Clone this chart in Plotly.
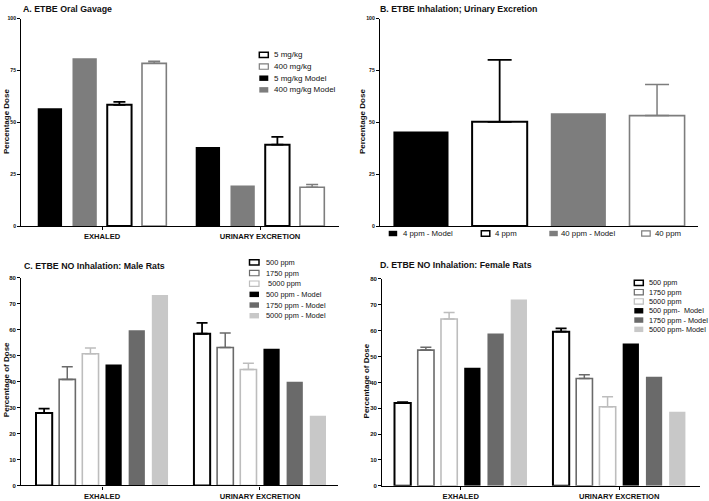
import plotly.graph_objects as go

W, H = 709, 501
FONT = "Liberation Sans, Arial, Helvetica, sans-serif"

# ---------------- data ----------------
categories = ["EXHALED", "URINARY EXCRETION"]

# Panel A: ETBE oral gavage
a_series = ["5 mg/kg Model", "400 mg/kg Model", "5 mg/kg", "400 mg/kg"]
a_5_model = [56.7, 38.1]
a_400_model = [80.8, 19.5]
a_5 = [58.4, 39.2]
a_5_err = [1.4, 3.8]
a_400 = [78.4, 18.7]
a_400_err = [1.0, 1.3]
a_legend = ["5 mg/kg", "400 mg/kg", "5 mg/kg Model", "400 mg/kg Model"]
a_yticks = [0, 25, 50, 75, 100]

# Panel B: ETBE inhalation, urinary excretion
b_category = ["URINARY EXCRETION"]
b_series = ["4 ppm - Model", "4 ppm", "40 ppm - Model", "40 ppm"]
b_values = [45.5, 50.2, 54.3, 53.2]
b_err = [0.0, 29.9, 0.0, 15.0]
b_yticks = [0, 25, 50, 75, 100]

# Panel C: ETBE NO inhalation, male rats
c_series = ["500 ppm", "1750 ppm", "5000 ppm",
            "500 ppm - Model", "1750 ppm - Model", "5000 ppm - Model"]
c_500 = [27.9, 58.5]
c_500_err = [1.7, 4.2]
c_1750 = [40.9, 53.2]
c_1750_err = [4.9, 5.6]
c_5000 = [50.8, 44.7]
c_5000_err = [2.2, 2.4]
c_500_model = [46.6, 52.7]
c_1750_model = [59.8, 40.0]
c_5000_model = [73.4, 26.9]
c_legend = ["500 ppm", "1750 ppm", " 5000 ppm",
            "500 ppm - Model", "1750 ppm - Model", "5000 ppm - Model"]

# Panel D: ETBE NO inhalation, female rats
d_500 = [32.0, 59.6]
d_500_err = [0.4, 1.3]
d_1750 = [52.5, 41.5]
d_1750_err = [1.1, 1.5]
d_5000 = [64.5, 30.6]
d_5000_err = [2.5, 3.9]
d_500_model = [45.7, 55.0]
d_1750_model = [58.9, 42.2]
d_5000_model = [72.1, 28.7]
d_legend = ["500 ppm", "1750 ppm", "5000 ppm",
            "500 ppm-  Model", "1750 ppm - Model", "5000 ppm- Model"]
cd_yticks = [0, 10, 20, 30, 40, 50, 60, 70, 80]

# ---------------- styles ----------------
BLACK = "#000000"
GRAY = "#7d7d7d"
DGRAY = "#6a6a6a"
LGRAY = "#c8c8c8"
LBORDER = "#bdbdbd"
WHITE = "#ffffff"
TEXT = "#111111"

# style: (fill, border colour, border width)
STY = {
    "black_fill": (BLACK, BLACK, 0),
    "gray_fill": (GRAY, GRAY, 0),
    "dgray_fill": (DGRAY, DGRAY, 0),
    "lgray_fill": (LGRAY, LGRAY, 0),
    "white_black": (WHITE, BLACK, 2),
    "white_gray": (WHITE, GRAY, 1.6),
    "white_dgray": (WHITE, DGRAY, 1.6),
    "white_lgray": (WHITE, LBORDER, 1.6),
}


def px(x):
    return x / W


def py(y):
    return 1 - y / H


fig = go.Figure()


def add_bar(name, xs, ys, style, axis, err=None, cap=6):
    fill, border, lw = STY[style]
    eb = dict(visible=False)
    if err is not None:
        eb = dict(type="data", array=err, arrayminus=[0] * len(err), symmetric=False,
                  color=border, thickness=1.8 if lw >= 2 else 1.5, width=cap, visible=True)
    fig.add_trace(go.Bar(
        name=name, x=xs, y=ys, xaxis="x" + axis, yaxis="y" + axis,
        marker=dict(color=fill, line=dict(color=border, width=lw)),
        error_y=eb, showlegend=False, hoverinfo="name+y",
    ))


# Panel A
add_bar(a_series[0], categories, a_5_model, "black_fill", "")
add_bar(a_series[1], categories, a_400_model, "gray_fill", "")
add_bar(a_series[2], categories, a_5, "white_black", "", a_5_err, 6)
add_bar(a_series[3], categories, a_400, "white_gray", "", a_400_err, 6)

# Panel B (one category, four bars)
b_styles = ["black_fill", "white_black", "gray_fill", "white_gray"]
for name, v, e, s in zip(b_series, b_values, b_err, b_styles):
    add_bar(name, b_category, [v], s, "2", None if e == 0 else [e], 12)

# Panel C
cd_styles = ["white_black", "white_dgray", "white_lgray", "black_fill", "dgray_fill", "lgray_fill"]
c_vals = [c_500, c_1750, c_5000, c_500_model, c_1750_model, c_5000_model]
c_errs = [c_500_err, c_1750_err, c_5000_err, None, None, None]
for name, v, e, s in zip(c_series, c_vals, c_errs, cd_styles):
    add_bar(name, categories, v, s, "3", e, 5.5)

# Panel D
d_vals = [d_500, d_1750, d_5000, d_500_model, d_1750_model, d_5000_model]
d_errs = [d_500_err, d_1750_err, d_5000_err, None, None, None]
for name, v, e, s in zip(c_series, d_vals, d_errs, cd_styles):
    add_bar(name, categories, v, s, "4", e, 5.5)


# ---------------- axes ----------------
def xax(dom, rng, show_labels=True):
    return dict(
        domain=[px(dom[0]), px(dom[1])], range=rng, type="category",
        showline=True, linecolor="black", linewidth=1.3,
        ticks="outside" if show_labels else "", ticklen=3, tickwidth=1, tickcolor="black",
        showticklabels=show_labels,
        tickfont=dict(family=FONT, size=7.6, color=TEXT, weight="bold"),
        showgrid=False, zeroline=False, fixedrange=True,
    )


def yax(dom, rng, ticks, fsize):
    return dict(
        domain=[py(dom[0]), py(dom[1])], range=rng, tickvals=ticks,
        showline=True, linecolor="black", linewidth=1.3,
        ticks="outside", ticklen=3, tickwidth=1, tickcolor="black",
        tickfont=dict(family=FONT, size=fsize, color=TEXT, weight="bold"),
        showgrid=False, zeroline=False, fixedrange=True,
    )


layout_axes = dict(
    xaxis=xax((21.3, 339), [-0.511, 1.5]) | dict(anchor="y"),
    yaxis=yax((225.7, 15.7), [0, 100], a_yticks, 5.2) | dict(anchor="x"),
    xaxis2=xax((380, 698), [-0.4445, 0.4445], False) | dict(anchor="y2"),
    yaxis2=yax((225.7, 15.7), [0, 100], b_yticks, 5.2) | dict(anchor="x2"),
    xaxis3=xax((21.3, 338), [-0.511, 1.494]) | dict(anchor="y3"),
    yaxis3=yax((488.3, 278.3), [0, 80], cd_yticks, 6) | dict(anchor="x3"),
    xaxis4=xax((382.3, 700), [-0.495, 1.51]) | dict(anchor="y4"),
    yaxis4=yax((488.7, 279.3), [0, 80], cd_yticks, 6) | dict(anchor="x4"),
)

annotations = []
shapes = []


def text(x, y, s, size, bold=False, xanchor="left", angle=0):
    annotations.append(dict(
        x=px(x), y=py(y), xref="paper", yref="paper", text=s, showarrow=False,
        xanchor=xanchor, yanchor="middle", textangle=angle,
        font=dict(family=FONT, size=size, color=TEXT, weight="bold" if bold else "normal"),
    ))


# titles
text(21, 6, "A. ETBE Oral Gavage", 8.8, True)
text(378, 6, "B. ETBE Inhalation; Urinary Excretion", 8.8, True)
text(21.5, 265.7, "C. ETBE NO Inhalation: Male Rats", 8.8, True)
text(378, 265, "D. ETBE NO Inhalation: Female Rats", 8.8, True)

# y titles
text(6, 120.5, "Percentage Dose", 8, True, "center", -90)
text(362.5, 120, "Percentage Dose", 8, True, "center", -90)
text(6, 381.7, "Percentage of Dose", 8, True, "center", -90)
text(366.7, 382.3, "Percentage of Dose", 8, True, "center", -90)


def swatch(x0, yc, w, h, style):
    fill, border, lw = STY[style]
    shapes.append(dict(
        type="rect", xref="paper", yref="paper",
        x0=px(x0), x1=px(x0 + w), y0=py(yc + h / 2), y1=py(yc - h / 2),
        fillcolor=fill, line=dict(color=border, width=max(lw * 0.75, 0.01) if lw else 0),
    ))


# legend A
a_leg_styles = ["white_black", "white_gray", "black_fill", "gray_fill"]
for i, (lab, s) in enumerate(zip(a_legend, a_leg_styles)):
    yc = 52.5 + i * 11.8
    swatch(259.3, yc, 9, 5.5, s)
    text(271.5, yc, lab, 8)

# legend B (horizontal, below the axis)
b_sw_x = [388.7, 481.3, 549.3, 641.7]
b_tx_x = [400.5, 493.0, 559.0, 652.5]
for lab, s, sx, tx in zip(b_series, b_styles, b_sw_x, b_tx_x):
    swatch(sx, 233.3, 8.5, 5.5, s)
    text(tx, 233.3, lab, 7.8)

# legend C
for i, (lab, s) in enumerate(zip(c_legend, cd_styles)):
    yc = 262.5 + i * 10.8
    swatch(249.5, yc, 9.5, 5.5, s)
    text(263.5, yc, lab, 7.4)

# legend D
for i, (lab, s) in enumerate(zip(d_legend, cd_styles)):
    yc = 283.3 + i * 9.4
    swatch(634.3, yc, 9, 5.5, s)
    text(646.5, yc, lab, 7.3)

fig.update_layout(
    width=W, height=H, autosize=False,
    margin=dict(l=0, r=0, t=0, b=0, pad=0),
    paper_bgcolor="white", plot_bgcolor="white",
    barmode="group", bargap=0.12, bargroupgap=0.3,
    font=dict(family=FONT, color=TEXT),
    annotations=annotations, shapes=shapes,
    showlegend=False,
    **layout_axes,
)

fig.write_html(
    "out.html",
    config={"displayModeBar": False, "staticPlot": False},
    post_script="document.body.style.margin='0';document.body.style.padding='0';",
)
